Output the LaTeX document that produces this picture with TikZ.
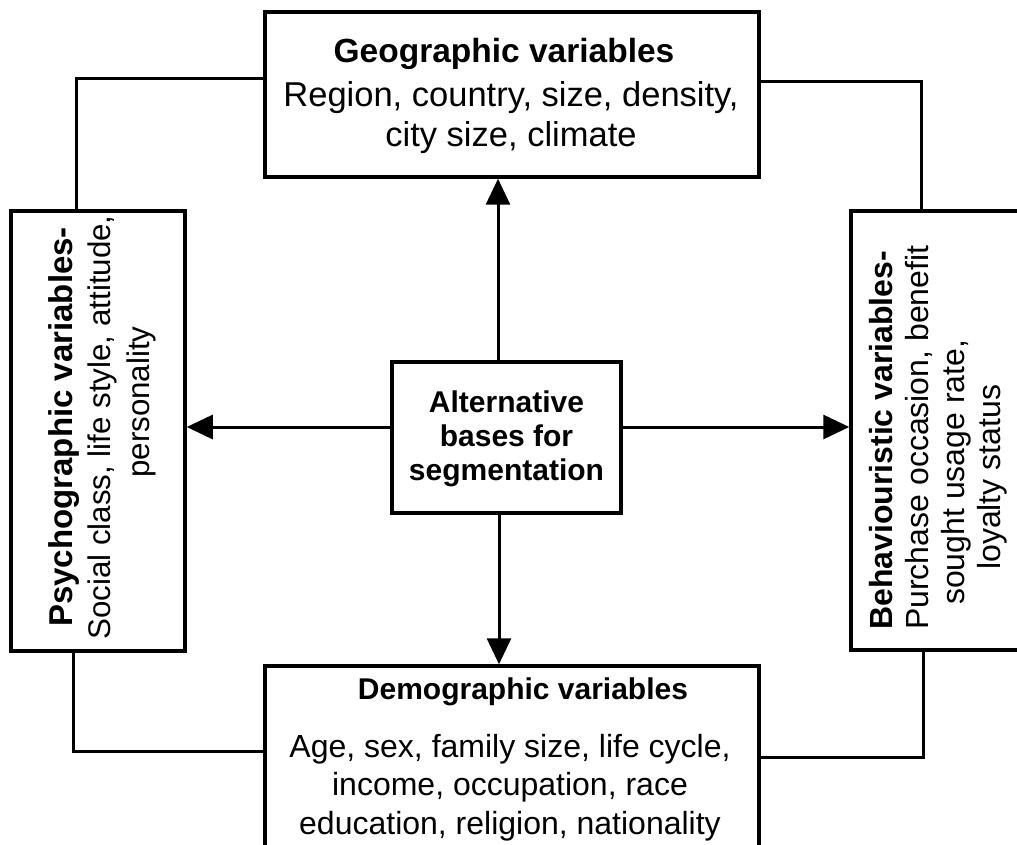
\documentclass[tikz,border=0pt]{standalone}
\usepackage{fontspec}
\setmainfont{Liberation Sans}
\usetikzlibrary{arrows.meta}

\begin{document}
\begin{tikzpicture}[x=1pt,y=-1pt,
  box/.style={draw, line width=3.5pt, fill=white, inner sep=0pt},
  conn/.style={line width=3pt},
  arr/.style={line width=3pt, -{Triangle[length=26pt,width=24pt]}},
  txt/.style={inner sep=0pt, align=center},
  sidetxt/.style={inner sep=0pt, align=left, rotate=90, anchor=north west}]

% page frame
\useasboundingbox (0,0) rectangle (1017,845);
\clip (0,0) rectangle (1017,845);

% corner points of the surrounding loop
\coordinate (tl) at (76,79);
\coordinate (tr) at (921,82);
\coordinate (bl) at (73,751);
\coordinate (br) at (923,757);
% axis lines of the four arrows
\coordinate (vx) at (498,0);
\coordinate (vxb) at (499,0);
\coordinate (hy) at (0,427);

% boxes (outline only)
\node[box, minimum width=494pt, minimum height=165pt] (geo)   at (512,94.5) {};
\node[box, minimum width=174pt, minimum height=440pt] (psych) at (98,431) {};
\node[box, minimum width=189pt, minimum height=439pt] (behav) at (945.5,430.5) {};
\node[box, minimum width=494pt, minimum height=214pt] (demo)  at (512,773) {};
\node[box, minimum width=229pt, minimum height=151pt] (alt)   at (506.5,437.5) {};

% loop joining the outer boxes
\draw[conn] (geo.west |- tl) -| (psych.north -| tl);
\draw[conn] (geo.east |- tr) -| (behav.north -| tr);
\draw[conn] (psych.south -| bl) |- (demo.west |- bl);
\draw[conn] (behav.south -| br) |- (demo.east |- br);

% arrows out of the central box
\draw[arr] (alt.north -| vx) -- (geo.south -| vx);
\draw[arr] (alt.south -| vxb) -- (demo.north -| vxb);
\draw[arr] (alt.west |- hy) -- (psych.east |- hy);
\draw[arr] (alt.east |- hy) -- (behav.west |- hy);

% texts
\node[txt, anchor=north, font=\fontsize{34.5}{40}\selectfont] (geotext) at (511,38)
  {\hspace*{-14pt}{\fontsize{33.5}{40}\selectfont\bfseries Geographic variables}\\[4pt]
   Region, country, size, density,\\
   city size, climate};

\node[txt, font=\fontsize{30}{34}\selectfont\bfseries] (alttext) at (506.5,439)
  {Alternative\\ bases for\\ segmentation};

\node[txt, anchor=north, font=\fontsize{32}{38.5}\selectfont] (demotext) at (510,678)
  {\hspace*{26pt}{\fontsize{30}{38.5}\selectfont\bfseries Demographic variables}\\[19pt]
   Age, sex, family size, life cycle,\\
   income, occupation, race\\
   education, religion, nationality};

\node[sidetxt, font=\fontsize{31.3}{38.5}\selectfont] (psychtext) at (48,640)
  {\hspace*{13pt}{\fontsize{33}{38.5}\selectfont\bfseries Psychographic variables-}\\
   Social class, life style, attitude,\\
   \hspace*{162pt}personality};

\node[sidetxt, font=\fontsize{32}{36}\selectfont] (behavtext) at (869,630)
  {\textbf{Behaviouristic variables-}\\
   Purchase occasion, benefit\\
   \hspace*{25pt}sought usage rate,\\
   \hspace*{60pt}loyalty status};

\end{tikzpicture}
\end{document}
